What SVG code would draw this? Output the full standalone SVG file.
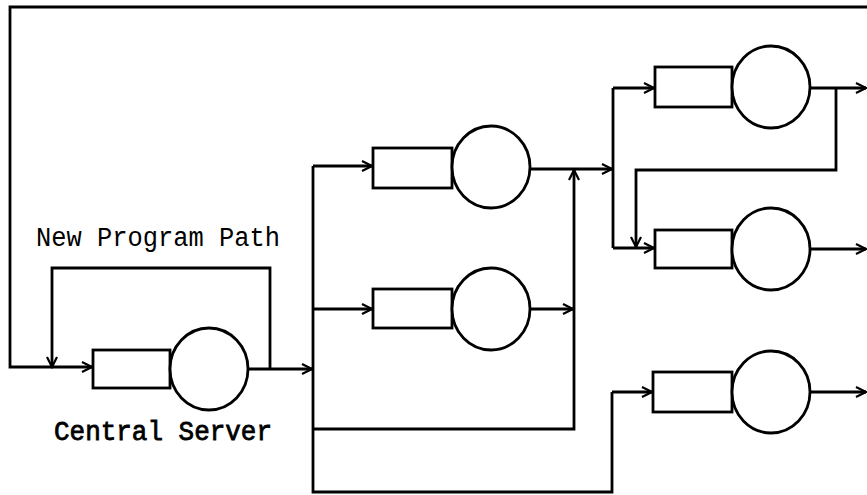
<svg xmlns="http://www.w3.org/2000/svg" width="867" height="495" viewBox="0 0 867 495">
<style>
.box{fill:none;stroke:#000;stroke-width:2.8}
.srv{fill:#fff;stroke:#000;stroke-width:2.8}
.ln{fill:none;stroke:#000;stroke-width:2.8;stroke-linejoin:miter}
.arr{marker-end:url(#ah)}
.lbl{font-family:"Liberation Mono","DejaVu Sans Mono",monospace;font-size:27px;fill:#000}
</style>
<defs>
<marker id="ah" viewBox="-11 -7 13 14" refX="0" refY="0" markerWidth="13" markerHeight="14" markerUnits="userSpaceOnUse" orient="auto">
<path d="M-10,-5 L0,0 L-10,5" fill="none" stroke="#000" stroke-width="2.2"/>
</marker>
</defs>
<rect width="867" height="495" fill="#fff"/>
<g id="connectors">
<path class="ln arr" d="M867,7 L10,7 L10,367 L92,367"/>
<path class="ln arr" d="M270,369 L270,268 L52,268 L52,367"/>
<path class="ln arr" d="M249,369 L312,369"/>
<path class="ln" d="M313,166 L313,492 L612,492 L612,392"/>
<path class="ln arr" d="M612,392 L652,392"/>
<path class="ln arr" d="M313,166 L372,166"/>
<path class="ln arr" d="M313,309 L372,309"/>
<path class="ln arr" d="M313,429 L574,429 L574,170"/>
<path class="ln arr" d="M531,169 L612,169"/>
<path class="ln arr" d="M531,309 L573,309"/>
<path class="ln" d="M613,88 L613,248"/>
<path class="ln arr" d="M613,88 L654,88"/>
<path class="ln arr" d="M613,248 L654,248"/>
<path class="ln arr" d="M810,88 L866,88"/>
<path class="ln arr" d="M836,88 L836,170 L636,170 L636,247"/>
<path class="ln arr" d="M810,249 L866,249"/>
<path class="ln arr" d="M810,392 L866,392"/>
</g>
<g id="central-server">
<rect class="box" x="93" y="350" width="77" height="38"/>
<ellipse class="srv" cx="209" cy="369" rx="39" ry="41"/>
</g>
<g id="mid-1">
<rect class="box" x="373" y="148" width="79" height="40"/>
<ellipse class="srv" cx="491" cy="167" rx="39" ry="41"/>
</g>
<g id="mid-2">
<rect class="box" x="373" y="289" width="79" height="39"/>
<ellipse class="srv" cx="491" cy="309" rx="39" ry="41"/>
</g>
<g id="right-1">
<rect class="box" x="655" y="67" width="77" height="40"/>
<ellipse class="srv" cx="771" cy="87" rx="39" ry="41"/>
</g>
<g id="right-2">
<rect class="box" x="655" y="230" width="77" height="38"/>
<ellipse class="srv" cx="771" cy="249" rx="39" ry="41"/>
</g>
<g id="right-3">
<rect class="box" x="653" y="372" width="79" height="40"/>
<ellipse class="srv" cx="771" cy="392" rx="39" ry="41"/>
</g>
<g id="labels">
<text class="lbl" x="36" y="246" textLength="244" lengthAdjust="spacingAndGlyphs">New Program Path</text>
<text class="lbl" x="54" y="440" stroke="#000" stroke-width="0.8" textLength="218" lengthAdjust="spacingAndGlyphs">Central Server</text>
</g>
</svg>
